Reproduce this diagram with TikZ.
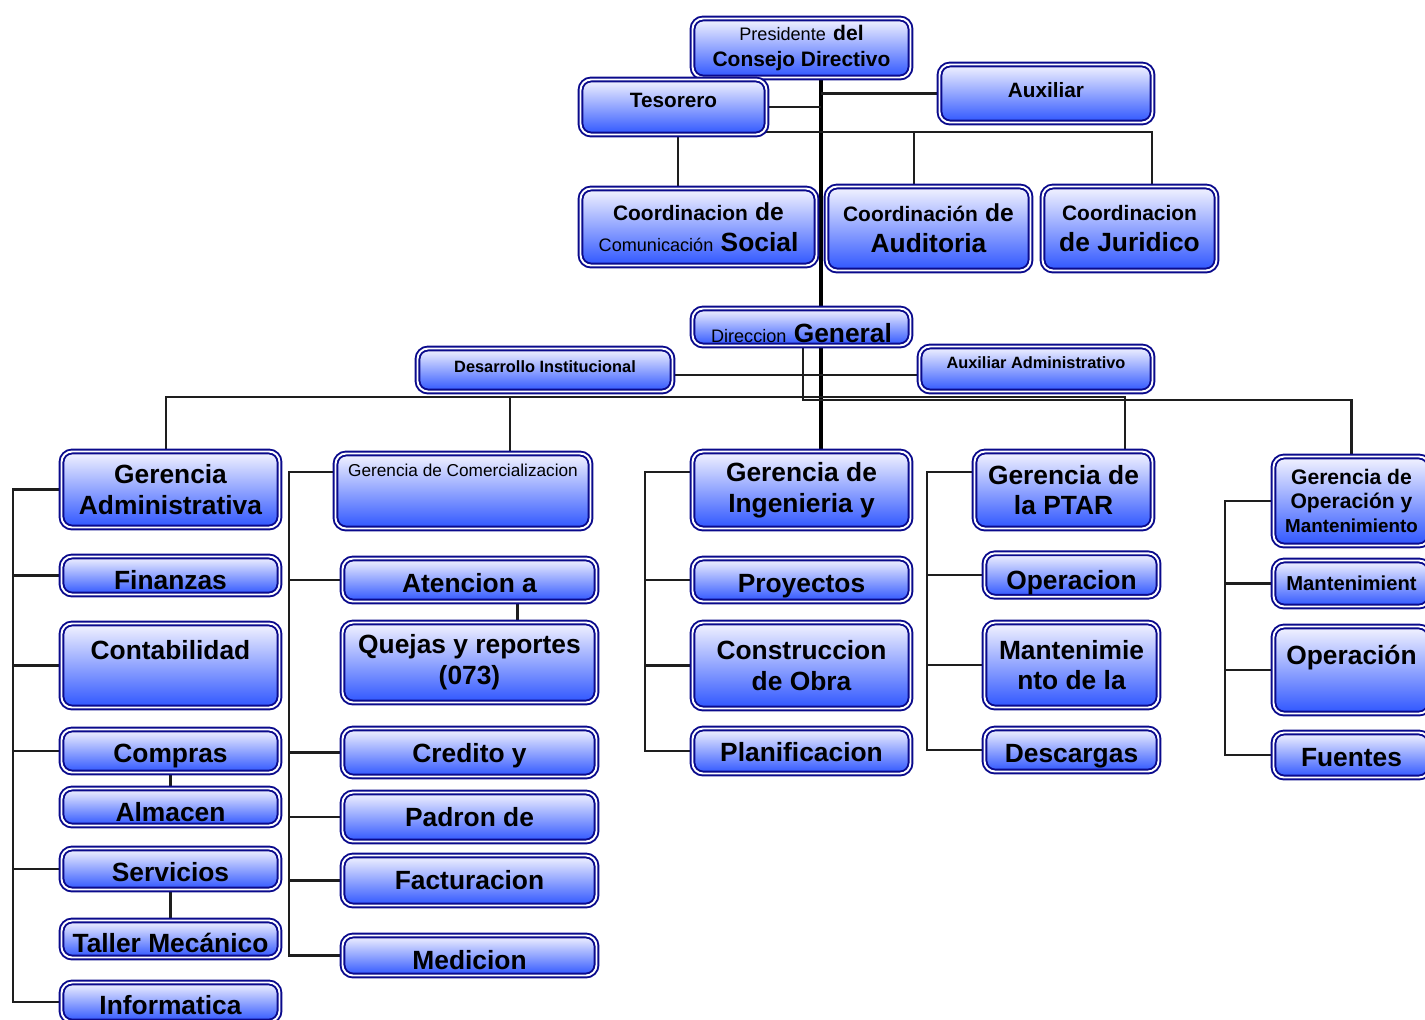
\documentclass[tikz,border=0pt]{standalone}
\usepackage{fontspec}
\setmainfont{Liberation Sans}
\usepackage{tikz}
\usetikzlibrary{positioning, calc, backgrounds}
\definecolor{BoxLine}{HTML}{0A0A8C}
\definecolor{BoxTop}{HTML}{F4F4FF}
\definecolor{BoxBottom}{HTML}{2E55FF}
\definecolor{LineGray}{HTML}{1E1E1E}
\newcommand{\txtL}{\fontsize{15}{17.5}\selectfont\bfseries}
\newcommand{\txtM}{\fontsize{11.9}{14}\selectfont\bfseries}
\newcommand{\txtS}{\fontsize{10.3}{12}\selectfont\mdseries}

\begin{document}
\begin{tikzpicture}[
    x=0.02cm, y=-0.02cm,
    unit/.style={rectangle, rounded corners=6pt, draw=BoxLine, double=white,
                 double distance=1.1pt, line width=1.1pt,
                 top color=BoxTop, bottom color=BoxBottom,
                 align=center, inner sep=1pt, text=black, font=\txtL},
    wh/.style 2 args={minimum width=#1*0.02cm, minimum height=#2*0.02cm},
    sink/.style={execute at begin node=\rule{0pt}{#1}},
    conn/.style={draw=LineGray, line width=1.2pt},
    trunk/.style={draw=black, line width=2.6pt}
]
    \useasboundingbox (0,0) rectangle (1425,1019);

    % Board and staff
    \node[unit, wh={218}{59}, sink=18pt] (pres) at (801.5,48)
        {{\txtS Presidente} {\fontsize{12}{14}\selectfont\bfseries del}\\[-3pt]{\txtM Consejo Directivo}};
    \node[unit, wh={186}{55}, font=\fontsize{11.8}{14}\selectfont\bfseries] (tes) at (673.5,107) {Tesorero\\[-6pt]~};
    \node[unit, wh={213}{58}, font=\fontsize{11.8}{14}\selectfont\bfseries] (aux) at (1046,93.5) {Auxiliar\\[-10pt]~};

    \node[unit, wh={236}{77}, sink=13.6pt] (social) at (698.5,227)
        {{\txtM Coordinacion} {\fontsize{14}{16}\selectfont de}\\{\txtS Comunicación} Social};
    \node[unit, wh={204}{84}] (aud) at (928.5,228.5)
        {{\txtM Coordinación} {\fontsize{14}{16}\selectfont de}\\Auditoria};
    \node[unit, wh={174}{84}, sink=11.4pt] (jur) at (1129.5,228.5)
        {{\txtM Coordinacion}\\de Juridico};

    \node[unit, wh={218}{37}, sink=17.6pt] (dir) at (801.5,327) {{\txtS Direccion} General};
    \node[unit, wh={255}{43}, font=\fontsize{9.3}{11}\selectfont\bfseries] (desa) at (545,370) {Desarrollo Institucional\\[-7.5pt]~};
    \node[unit, wh={233}{45}, font=\fontsize{9.3}{11}\selectfont\bfseries] (auxadm) at (1036,369) {Auxiliar Administrativo\\[-4pt]~};

    % Gerencia Administrativa
    \node[unit, wh={218}{76}, sink=14.4pt] (gadm) at (170.5,489.5) {Gerencia\\Administrativa};
    \node[unit, wh={218}{38}, sink=15.9pt] (fin) at (170.5,575.5) {Finanzas};
    \node[unit, wh={218}{84}] (cont) at (170.5,665.5) {Contabilidad\\~};
    \node[unit, wh={218}{43}, sink=16.2pt] (comp) at (170.5,751) {Compras};
    \node[unit, wh={218}{37}, sink=16.4pt] (alm) at (170.5,807) {Almacen};
    \node[unit, wh={218}{41}, sink=14.2pt] (serv) at (170.5,869) {Servicios};
    \node[unit, wh={218}{37}, sink=15.3pt] (taller) at (170.5,939) {Taller Mecánico};
    \node[unit, wh={218}{39}, sink=14.2pt] (info) at (170.5,1002) {Informatica};

    % Gerencia de Comercializacion
    \node[unit, wh={255}{75}, font=\fontsize{9.8}{12}\selectfont] (gcom) at (463,491)
        {Gerencia de Comercializacion\\~\\~};
    \node[unit, wh={254}{43}, sink=14.2pt] (aten) at (469.5,580) {Atencion a};
    \node[unit, wh={254}{80}, sink=16.1pt] (quej) at (469.5,662.5) {Quejas y reportes\\(073)};
    \node[unit, wh={254}{48}, sink=14.5pt] (cred) at (469.5,752.5) {Credito y};
    \node[unit, wh={254}{49}] (padr) at (469.5,817) {Padron de};
    \node[unit, wh={254}{50}] (fact) at (469.5,880.5) {Facturacion};
    \node[unit, wh={254}{40}, sink=15.9pt] (medi) at (469.5,955.5) {Medicion};

    % Gerencia de Ingenieria
    \node[unit, wh={218}{77}, sink=16.7pt] (ing) at (801.5,490) {Gerencia de\\Ingenieria y};
    \node[unit, wh={218}{43}, sink=17.4pt] (proy) at (801.5,580) {Proyectos};
    \node[unit, wh={218}{86}] (cons) at (801.5,665.5) {Construccion\\de Obra};
    \node[unit, wh={218}{45}, sink=11.9pt] (plan) at (801.5,751) {Planificacion};

    % Gerencia de la PTAR
    \node[unit, wh={178}{77}, sink=13.8pt] (ptar) at (1063.5,490) {Gerencia de\\la PTAR};
    \node[unit, wh={174}{39}, sink=19.6pt] (oper) at (1071.5,575) {Operacion};
    \node[unit, wh={174}{85}] (mant) at (1071.5,665) {Mantenimie\\nto de la};
    \node[unit, wh={174}{43}, sink=17.4pt] (desc) at (1071.5,750) {Descargas};

    % Gerencia de Operacion y Mantenimiento
    \node[unit, wh={156}{89}, sink=12.2pt, font=\fontsize{12}{13.6}\selectfont\bfseries] (gom) at (1351.5,501)
        {Gerencia de\\Operación y\\{\fontsize{10.7}{13.6}\selectfont Mantenimiento}};
    \node[unit, wh={156}{46}, font=\fontsize{11.5}{14}\selectfont\bfseries] (mant2) at (1351.5,583.5) {Mantenimient};
    \node[unit, wh={156}{87}] (oper2) at (1351.5,670) {Operación\\~};
    \node[unit, wh={156}{45}, sink=13pt] (fuen) at (1351.5,755) {Fuentes};

    % Connectors
    \coordinate (tk) at (821,0);
    \coordinate (cbus) at (678,132);
    \coordinate (daud) at (914,132);
    \coordinate (djur) at (1152,132);
    \coordinate (dline) at (0,375);
    \coordinate (bl) at (166,397);
    \coordinate (bc) at (510,397);
    \coordinate (br) at (1125,397);
    \coordinate (b2) at (803,400);
    \coordinate (s1) at (13,490);
    \coordinate (s2) at (289,472);
    \coordinate (s3) at (645,472);
    \coordinate (s4) at (927,472);
    \coordinate (s5) at (1225,500);

    \begin{scope}[on background layer]
        \draw[trunk] (pres.south -| tk) -- (ing.north -| tk);
        \draw[conn] (aux.west) -- (aux.west -| tk);
        \draw[conn] (tes.east) -- (tes.east -| tk);
        \draw[conn] (tes.south -| cbus) -- (social.north -| cbus);
        \draw[conn] (cbus) -- (djur) -- (djur |- jur.north);
        \draw[conn] (daud) -- (daud |- aud.north);

        \draw[conn] (dline -| desa.east) -- (dline -| auxadm.west);
        \draw[conn] (gadm.north -| bl) -- (bl) -- (br) -- (ptar.north -| br);
        \draw[conn] (bc) -- (gcom.north -| bc);
        \draw[conn] (dir.south -| b2) -- (b2) -| (gom.north);

        % spines
        \draw[conn] (gadm.west) -- (gadm.west -| s1) -- (info.west -| s1) -- (info.west);
        \foreach \n in {fin,cont,comp,serv}
            \draw[conn] (\n.west) -- (\n.west -| s1);
        \draw[conn] (comp) -- (alm);
        \draw[conn] (serv) -- (taller);

        \draw[conn] (s2 -| gcom.west) -- (s2) -- (s2 |- medi.west) -- (medi.west);
        \foreach \n in {aten,cred,padr,fact}
            \draw[conn] (\n.west) -- (\n.west -| s2);
        \draw[conn] ([xshift=48*0.02cm]aten.south) -- ([xshift=48*0.02cm]quej.north);

        \draw[conn] (s3 -| ing.west) -- (s3) -- (s3 |- plan.west) -- (plan.west);
        \foreach \n in {proy,cons}
            \draw[conn] (\n.west) -- (\n.west -| s3);

        \draw[conn] (s4 -| ptar.west) -- (s4) -- (s4 |- desc.west) -- (desc.west);
        \foreach \n in {oper,mant}
            \draw[conn] (\n.west) -- (\n.west -| s4);

        \draw[conn] (gom.west) -- (gom.west -| s5) -- (fuen.west -| s5) -- (fuen.west);
        \foreach \n in {mant2,oper2}
            \draw[conn] (\n.west) -- (\n.west -| s5);
    \end{scope}
\end{tikzpicture}
\end{document}
